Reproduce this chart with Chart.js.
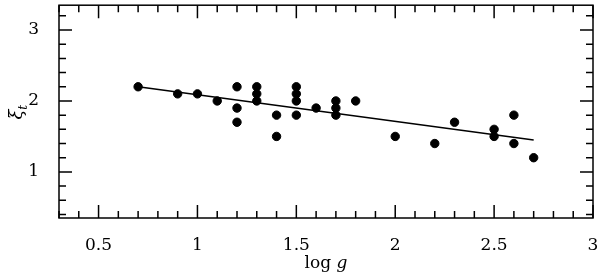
<!DOCTYPE html>
<html>
<head>
<meta charset="utf-8">
<script src="https://cdn.jsdelivr.net/npm/chart.js@4.4.1/dist/chart.umd.min.js"></script>
<style>
  html, body { margin: 0; padding: 0; background: #fff; }
  #wrap { width: 600px; height: 275px; }
</style>
</head>
<body>
<div id="wrap"><canvas id="xiChart"></canvas></div>
<script>
// data
const logG = [0.7, 0.9, 1.0, 1.1, 1.2, 1.2, 1.2, 1.3, 1.3, 1.3, 1.4, 1.4, 1.5, 1.5, 1.5, 1.5,
              1.6, 1.7, 1.7, 1.7, 1.8, 2.0, 2.2, 2.3, 2.5, 2.5, 2.6, 2.6, 2.7];
const xiT  = [2.2, 2.1, 2.1, 2.0, 2.2, 1.9, 1.7, 2.2, 2.1, 2.0, 1.8, 1.5, 2.2, 2.1, 2.0, 1.8,
              1.9, 2.0, 1.9, 1.8, 2.0, 1.5, 1.4, 1.7, 1.6, 1.5, 1.8, 1.4, 1.2];
const fitX = [0.7, 2.7];
const fitY = [2.2, 1.45];
const xMajor = [0.5, 1, 1.5, 2, 2.5, 3];
const yMajor = [1, 2, 3];

const FONT = '"DejaVu Serif", "Liberation Serif", serif';

// box + inward ticks on all four sides, like the original plot
const frameTicks = {
    id: 'frameTicks',
    afterDraw(chart) {
        const ctx = chart.ctx;
        const a = chart.chartArea;
        const xs = chart.scales.x, ys = chart.scales.y;
        ctx.save();
        ctx.strokeStyle = '#000';
        ctx.lineWidth = 1.5;
        ctx.strokeRect(a.left, a.top, a.right - a.left, a.bottom - a.top);
        ctx.beginPath();
        for (let i = 3; i <= 30; i++) {
            const v = i / 10;
            const px = xs.getPixelForValue(v);
            const len = (i % 5 === 0) ? 13 : 7;
            ctx.moveTo(px, a.bottom); ctx.lineTo(px, a.bottom - len);
            ctx.moveTo(px, a.top); ctx.lineTo(px, a.top + len);
        }
        for (let i = 2; i <= 16; i++) {
            const v = i / 5;
            const py = ys.getPixelForValue(v);
            const len = (i % 5 === 0) ? 13 : 7;
            ctx.moveTo(a.left, py); ctx.lineTo(a.left + len, py);
            ctx.moveTo(a.right, py); ctx.lineTo(a.right - len, py);
        }
        ctx.stroke();

        // axis titles
        ctx.fillStyle = '#000';
        ctx.textBaseline = 'alphabetic';
        const cx = (a.left + a.right) / 2;
        ctx.font = '17px ' + FONT;
        const w1 = ctx.measureText('log ').width;
        ctx.font = 'italic 17px ' + FONT;
        const w2 = ctx.measureText('g').width;
        let x0 = cx - (w1 + w2) / 2;
        ctx.font = '17px ' + FONT;
        ctx.fillText('log ', x0, 268);
        ctx.font = 'italic 17px ' + FONT;
        ctx.fillText('g', x0 + w1, 268);

        ctx.translate(22, (a.top + a.bottom) / 2);
        ctx.rotate(-Math.PI / 2);
        ctx.font = 'italic 18px ' + FONT;
        const wx = ctx.measureText('ξ').width;
        ctx.fillText('ξ', -wx / 2 - 3, 0);
        ctx.font = 'italic 12px ' + FONT;
        ctx.fillText('t', wx / 2 - 3, 5);
        ctx.restore();
    }
};

new Chart(document.getElementById('xiChart').getContext('2d'), {
    type: 'scatter',
    data: {
        datasets: [{
            type: 'line',
            data: fitX.map((x, i) => ({ x: x, y: fitY[i] })),
            borderColor: '#000',
            borderWidth: 1.5,
            pointRadius: 0,
            fill: false
        }, {
            data: logG.map((x, i) => ({ x: x, y: xiT[i] })),
            backgroundColor: '#000',
            borderColor: '#000',
            pointRadius: 4.2,
            pointHoverRadius: 4.2
        }]
    },
    options: {
        responsive: true,
        maintainAspectRatio: false,
        animation: false,
        layout: { padding: { top: 3, right: 7, left: 0, bottom: 0 } },
        plugins: { legend: { display: false }, tooltip: { enabled: false } },
        scales: {
            x: {
                type: 'linear',
                min: 0.3,
                max: 3,
                grid: { display: false },
                border: { display: false },
                afterBuildTicks: s => { s.ticks = xMajor.map(v => ({ value: v })); },
                afterFit: s => { s.height = 57; s.paddingLeft = 0; s.paddingRight = 0; },
                ticks: {
                    padding: 9,
                    color: '#000',
                    font: { family: FONT, size: 17 },
                    maxRotation: 0,
                    callback: v => String(v)
                }
            },
            y: {
                min: 0.35,
                max: 3.35,
                grid: { display: false },
                border: { display: false },
                afterBuildTicks: s => { s.ticks = yMajor.map(v => ({ value: v })); },
                afterFit: s => { s.width = 59; s.paddingTop = 0; s.paddingBottom = 0; },
                ticks: {
                    padding: 12,
                    color: '#000',
                    font: { family: FONT, size: 17 },
                    callback: v => String(v)
                }
            }
        }
    },
    plugins: [frameTicks]
});
</script>
</body>
</html>
